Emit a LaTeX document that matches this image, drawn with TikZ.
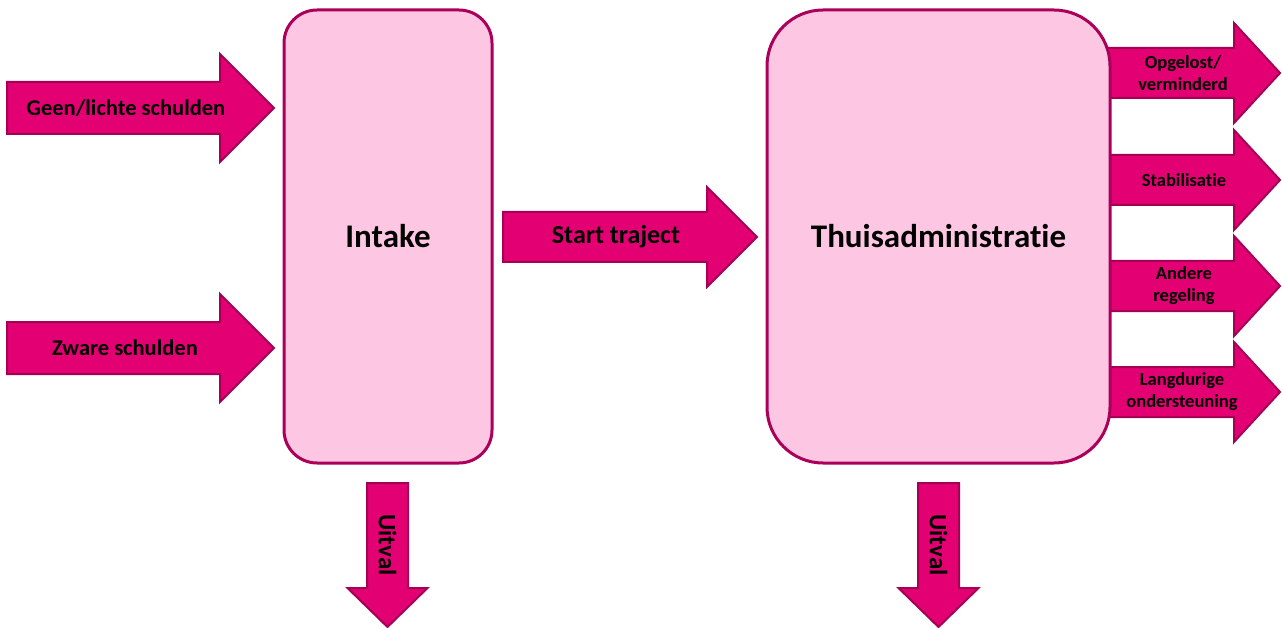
\documentclass[tikz,border=0pt]{standalone}
\usepackage{fontspec}
\setmainfont[Ligatures=NoCommon]{Carlito}
\definecolor{arrowfill}{RGB}{226,0,114}
\definecolor{arrowline}{RGB}{165,0,85}
\definecolor{boxfill}{RGB}{253,198,227}
\definecolor{boxline}{RGB}{170,0,90}
\newcommand{\rightblock}[6]{% x0, xhead, xtip, yc, bodyhalf, headhalf
  \draw[blockarrow] (#1,#4-#5) -- (#2,#4-#5) -- (#2,#4-#6) -- (#3,#4) -- (#2,#4+#6) -- (#2,#4+#5) -- (#1,#4+#5) -- cycle;}
\newcommand{\downblock}[6]{% xc, y0, yhead, ytip, bodyhalf, headhalf
  \draw[blockarrow] (#1-#5,#2) -- (#1+#5,#2) -- (#1+#5,#3) -- (#1+#6,#3) -- (#1,#4) -- (#1-#6,#3) -- (#1-#5,#3) -- cycle;}
\begin{document}
\begin{tikzpicture}[x=1pt,y=-1pt,
  blockarrow/.style={fill=arrowfill,draw=arrowline,line width=2pt,line join=miter},
  bigbox/.style={draw=boxline,fill=boxfill,line width=3pt,inner sep=0pt},
  biglabel/.style={font=\fontsize{33}{38}\selectfont\bfseries},
  midlabel/.style={font=\fontsize{26}{30}\selectfont\bfseries},
  inlabel/.style={font=\fontsize{22.5}{26}\selectfont\bfseries},
  downlabel/.style={font=\fontsize{25}{29}\selectfont\bfseries},
  smalllabel/.style={font=\fontsize{18.5}{22}\selectfont\bfseries,align=center}]
\useasboundingbox (0,0) rectangle (1282,628);

% incoming arrows
\rightblock{7}{220}{274}{108}{26}{54}
\node[inlabel] (geen) at (126,108) {Geen/lichte schulden};
\rightblock{7}{220}{274}{348}{26}{54}
\node[inlabel] (zware) at (125,348) {Zware schulden};

% start traject
\rightblock{503}{707}{757}{237}{25}{50}
\node[midlabel] (start) at (616,237) {Start traject};

% outgoing arrows (behind the box)
\rightblock{1100}{1234}{1280}{73}{25}{50}
\node[smalllabel] (opgelost) at (1183,73) {Opgelost/\\verminderd};
\rightblock{1100}{1234}{1280}{180}{25}{50}
\node[smalllabel] (stab) at (1184,180) {Stabilisatie};
\rightblock{1100}{1234}{1280}{286}{25}{50}
\node[smalllabel] (andere) at (1184,286) {Andere\\regeling};
\rightblock{1100}{1234}{1280}{392}{25}{50}
\node[smalllabel] (lang) at (1182,392) {Langdurige\\ondersteuning};

% boxes
\node[bigbox,rounded corners=33pt,minimum width=208pt,minimum height=453pt,biglabel] (intake) at (388,236.5) {Intake};
\node[bigbox,rounded corners=56pt,minimum width=343pt,minimum height=453pt,biglabel] (thuis) at (938.5,236.5) {Thuisadministratie};

% uitval arrows
\downblock{387.5}{483}{588}{627}{20.5}{40}
\node[downlabel,rotate=-90] (uitval1) at (387.5,545) {Uitval};
\downblock{938.5}{483}{588}{627}{20.5}{40}
\node[downlabel,rotate=-90] (uitval2) at (938.5,545) {Uitval};
\end{tikzpicture}
\end{document}
